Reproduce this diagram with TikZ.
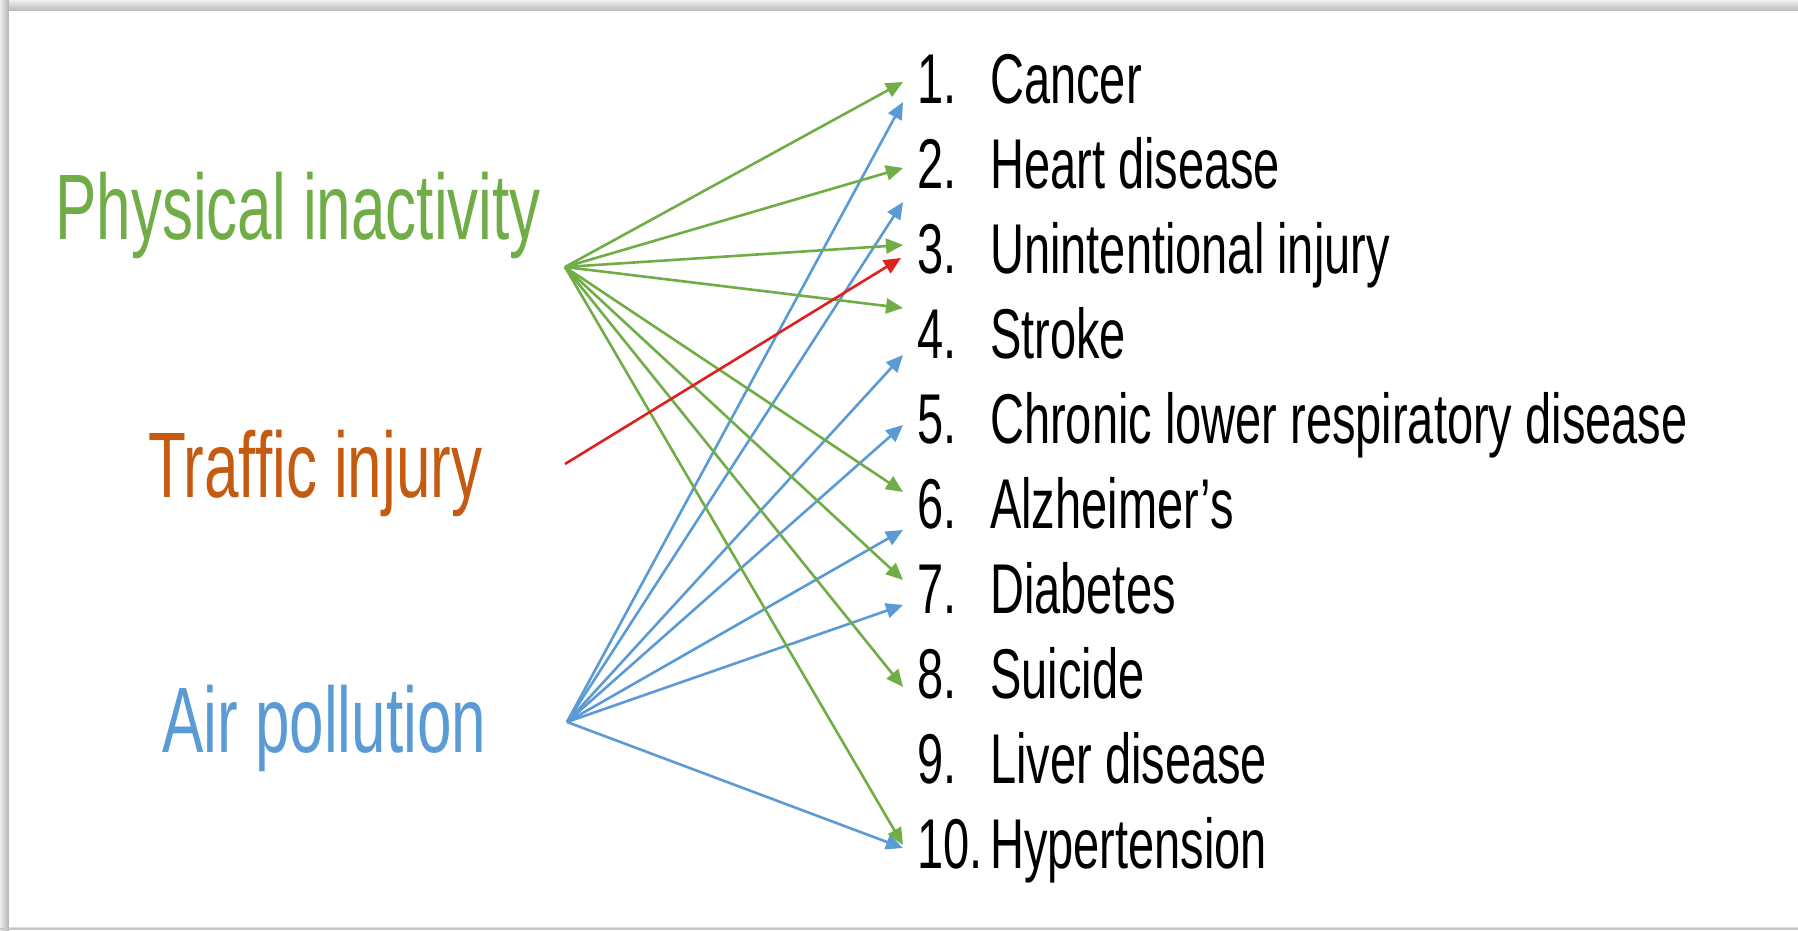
\documentclass[tikz,border=0pt]{standalone}
\usepackage{fontspec}
\setmainfont{Liberation Sans}
\usepackage{graphicx}
\usetikzlibrary{arrows.meta}
\definecolor{pigreen}{HTML}{70AD47}
\definecolor{apblue}{HTML}{5B9BD5}
\definecolor{tiorange}{HTML}{C55A11}
\definecolor{tired}{HTML}{E0201C}
\newcommand{\tall}[1]{\scalebox{1}[1.5]{#1}}
\tikzset{
  link/.style={line width=2.6pt, -{Triangle[length=17pt,width=15pt]}},
  greenlink/.style={link, draw=pigreen},
  bluelink/.style={link, draw=apblue},
  redlink/.style={link, draw=tired},
  item/.style={anchor=base west, inner sep=0pt, font=\fontsize{47}{56}\selectfont},
  cause/.style={anchor=base west, inner sep=0pt, font=\fontsize{62}{74}\selectfont},
}
\begin{document}
\begin{tikzpicture}[x=1pt,y=1pt]
\useasboundingbox (0,0) rectangle (1798,930);
% sheet with a soft shadow along the top and left edges
\fill[gray!25] (0,0) rectangle (1798,930);
\shade[top color=gray!12, bottom color=gray!55] (0,919) rectangle (1798,930);
\shade[left color=gray!15, right color=gray!60] (0,0) rectangle (9,930);
\fill[white] (9,3) rectangle (1798,919);
\fill[gray!45] (0,0) rectangle (1798,2.5);

% causes
\node[cause, text=pigreen] (pi) at (55,690) {\tall{Physical inactivity}};
\node[cause, text=tiorange] (ti) at (148,432) {\tall{Traffic injury}};
\node[cause, text=apblue] (ap) at (162,178) {\tall{Air pollution}};

% numbered list of causes of death
\foreach \i/\txt [evaluate=\i as \yy using {826-84.9*(\i-1)}] in
  {1/Cancer, 2/Heart disease, 3/Unintentional injury, 4/Stroke,
   5/Chronic lower respiratory disease, 6/Alzheimer’s, 7/Diabetes,
   8/Suicide, 9/Liver disease, 10/Hypertension}{
  \node[item] (num\i) at (917,\yy) {\tall{\i.}};
  \node[item] (lbl\i) at (990,\yy) {\tall{\txt}};
}

% fan-out points
\coordinate (piout) at (565,663);
\coordinate (tiout) at (565,466);
\coordinate (apout) at (567,208);

% arrow tips beside the list
\coordinate (g1) at (903,848);
\coordinate (g2) at (903,762);
\coordinate (g3) at (903,685);
\coordinate (g4) at (903,622);
\coordinate (g6) at (903,438);
\coordinate (g7) at (903,350);
\coordinate (g8) at (903,243);
\coordinate (g10) at (903,85);
\coordinate (b1) at (903,828);
\coordinate (b2) at (903,728);
\coordinate (b4) at (903,575);
\coordinate (b5) at (903,505);
\coordinate (b6) at (903,400);
\coordinate (b7) at (903,325);
\coordinate (b10) at (903,82);
\coordinate (r3) at (901,672);

% air pollution links
\foreach \t in {b1,b2,b4,b5,b6,b7,b10}
  \draw[bluelink] (apout) -- (\t);
% physical inactivity links
\foreach \t in {g1,g2,g3,g4,g6,g7,g8,g10}
  \draw[greenlink] (piout) -- (\t);
% traffic injury link
\draw[redlink] (tiout) -- (r3);
\end{tikzpicture}
\end{document}
